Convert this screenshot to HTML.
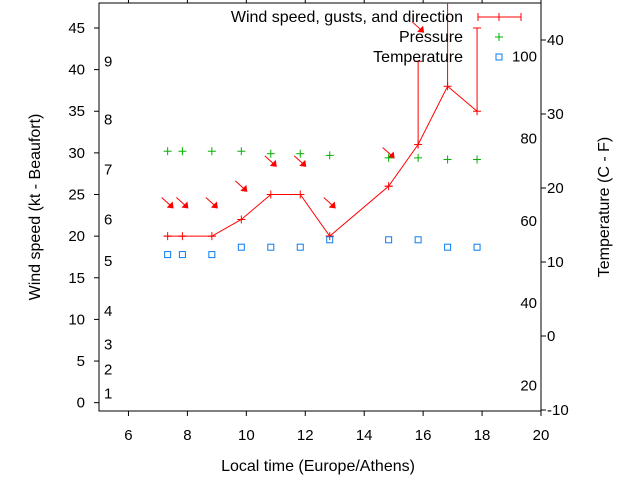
<!DOCTYPE html>
<html><head><meta charset="utf-8"><style>
html,body{margin:0;padding:0;background:#fff;}
svg{display:block;font-family:"Liberation Sans",sans-serif;}
</style></head><body>
<svg id="chart" width="640" height="480" viewBox="0 0 640 480" xmlns="http://www.w3.org/2000/svg">
<rect width="640" height="480" fill="#fff"/>
</svg>
<script>
const times=[7.33,7.83,8.83,9.83,10.83,11.83,12.83,14.83,15.83,16.83,17.83];
const windSpeed=[20,20,20,22,25,25,20,26,31,38,35];
const windGust=[20,20,20,22,25,25,20,26,41,55,45];
const arrowLevel=[23.8,23.8,23.8,25.8,28.8,28.8,23.8,29.8,44.9,55,55];
const pressure=[30.2,30.2,30.2,30.2,29.9,29.9,29.7,29.4,29.4,29.2,29.2];
const temperatureC=[11,11,11,12,12,12,13,13,13,12,12];
const xTicks=[6,8,10,12,14,16,18,20];
const yTicks=[0,5,10,15,20,25,30,35,40,45];
const cTicks=[-10,0,10,20,30,40];
const fTicks=[20,40,60,80,100];
const beaufortLabels=["1","2","3","4","5","6","7","8","9"];
const beaufortKt=[1.1,4,7,11,17,22,28,34,41];

const L=99,R=541,T=3,B=411;
const X=t=>L+(t-5)*(R-L)/15;
const Y=v=>B-(v+1)*(B-T)/49;
const YC=c=>410-(c+10)*7.4;
const YF=f=>YC((f-32)*5/9);
const svg=document.getElementById('chart');
const NS='http://www.w3.org/2000/svg';
function mk(tag,attrs,parent){const e=document.createElementNS(NS,tag);for(const k in attrs)e.setAttribute(k,attrs[k]);(parent||svg).appendChild(e);return e;}
function txt(s,x,y,anchor,parent,fs){const e=mk('text',{x:x,y:y,'font-size':fs||15,'text-anchor':anchor||'start',fill:'#000'},parent);e.textContent=s;return e;}

const clip=mk('clipPath',{id:'pc'});mk('rect',{x:L,y:T,width:R-L,height:B-T},clip);

const axes=mk('g',{});


mk('rect',{x:L,y:T,width:R-L,height:B-T,fill:'none',stroke:'#000','stroke-width':1},axes);
xTicks.forEach(t=>{
  mk('line',{x1:X(t),x2:X(t),y1:B,y2:B+5,stroke:'#000'},axes);
  mk('line',{x1:X(t),x2:X(t),y1:T,y2:T-5,stroke:'#000'},axes);
  const e=txt(String(t),X(t),440,'middle',axes);
  
  
});
yTicks.forEach(v=>{
  mk('line',{x1:L,x2:L-5,y1:Y(v),y2:Y(v),stroke:'#000'},axes);
  const e=txt(String(v),85,Y(v)+5,'end',axes);
  
  
});
cTicks.forEach(c=>{
  mk('line',{x1:R,x2:R+5,y1:YC(c),y2:YC(c),stroke:'#000'},axes);
  const e=txt(String(c),547,YC(c)+5,'start',axes);
  
  
});
fTicks.forEach(f=>{
  const e=txt(String(f),537,YF(f)+5,'end',axes);
  
  
});
beaufortLabels.forEach((b,i)=>{
  const e=txt(b,104,Y(beaufortKt[i])+5,'start',axes);
  
  
});
const xt=txt('Local time (Europe/Athens)',318,471,'middle',svg,16);


const yt=txt('Wind speed (kt - Beaufort)',0,0,'middle',svg,16);
yt.setAttribute('transform','translate(40,207) rotate(-90)');


const yt2=txt('Temperature (C - F)',0,0,'middle',svg,16);
yt2.setAttribute('transform','translate(609,207) rotate(-90)');



const plot=mk('g',{'clip-path':'url(#pc)'});



const pts=times.map((t,i)=>X(t)+','+Y(windSpeed[i])).join(' ');
const wl=mk('polyline',{points:pts,fill:'none',stroke:'#f00','stroke-width':1},plot);


times.forEach((t,i)=>{
  const g=mk('g',{stroke:'#f00','stroke-width':1},plot);
  
  
  const x=X(t),y=Y(windSpeed[i]),gy=Y(windGust[i]);
  mk('line',{x1:x,x2:x,y1:y,y2:gy},g);
  mk('line',{x1:x-4,x2:x+4,y1:gy,y2:gy},g);
  mk('line',{x1:x-4,x2:x+4,y1:y,y2:y},g);
  mk('line',{x1:x,x2:x,y1:y-4,y2:y+4},g);
  const ay=Y(arrowLevel[i]);
  const a=mk('g',{},plot);
  
  
  mk('line',{x1:x-6,y1:ay-7,x2:x+4,y2:ay+2,stroke:'#f00'},a);
  mk('polygon',{points:(x+6)+','+(ay+4)+' '+(x-1)+','+(ay+3)+' '+(x+5)+','+(ay-3),fill:'#f00'},a);
});
times.forEach((t,i)=>{
  const x=X(t),y=Y(pressure[i]);
  const g=mk('g',{stroke:'#00b000','stroke-width':1},plot);
  
  
  mk('line',{x1:x-4,x2:x+4,y1:y,y2:y},g);
  mk('line',{x1:x,x2:x,y1:y-4,y2:y+4},g);
});
times.forEach((t,i)=>{
  const x=X(t),y=YC(temperatureC[i]);
  const r=mk('rect',{x:x-3,y:y-3,width:6,height:6,fill:'none',stroke:'#0a7cf0','stroke-width':1},plot);
  
  
});

const lg=mk('g',{});


const l1=txt('Wind speed, gusts, and direction',463,22,'end',lg,16);


mk('line',{x1:478,x2:521,y1:17,y2:17,stroke:'#f00'},lg);
mk('line',{x1:478,x2:478,y1:13,y2:21,stroke:'#f00'},lg);
mk('line',{x1:521,x2:521,y1:13,y2:21,stroke:'#f00'},lg);
mk('line',{x1:499,x2:499,y1:13,y2:21,stroke:'#f00'},lg);
const l2=txt('Pressure',463,42,'end',lg,16);


mk('line',{x1:495,x2:503,y1:37,y2:37,stroke:'#00b000'},lg);
mk('line',{x1:499,x2:499,y1:33,y2:41,stroke:'#00b000'},lg);
const l3=txt('Temperature',463,62,'end',lg,16);


mk('rect',{x:496,y:54,width:6,height:6,fill:'none',stroke:'#0a7cf0'},lg);
</script>
</body></html>
